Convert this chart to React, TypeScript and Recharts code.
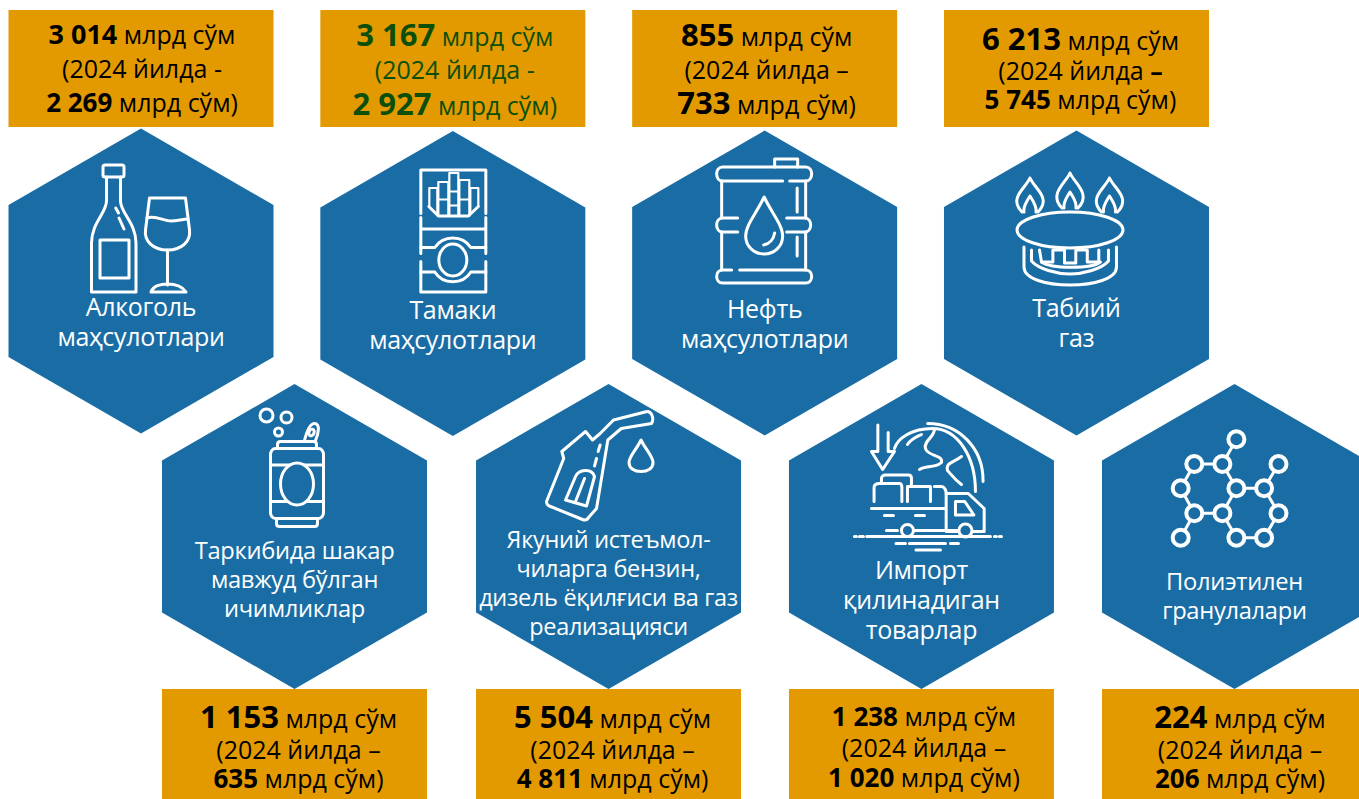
import { ReactNode } from 'react';
import { ScatterChart, Scatter, XAxis, YAxis } from 'recharts';

const categories = [
  ['Алкоголь', 'маҳсулотлари'],
  ['Тамаки', 'маҳсулотлари'],
  ['Нефть', 'маҳсулотлари'],
  ['Табиий', 'газ'],
  ['Таркибида шакар', 'мавжуд бўлган', 'ичимликлар'],
  ['Якуний истеъмол-', 'чиларга бензин,', 'дизель ёқилғиси ва газ', 'реализацияси'],
  ['Импорт', 'қилинадиган', 'товарлар'],
  ['Полиэтилен', 'гранулалари'],
];
const values2025 = ['3 014', '3 167', '855', '6 213', '1 153', '5 504', '1 238', '224'];
const values2024 = ['2 269', '2 927', '733', '5 745', '635', '4 811', '1 020', '206'];
const dashes = ['-', '-', '–', '–', '–', '–', '–', '–'];
const UNIT = 'млрд сўм';
const YEAR_TEXT = '(2024 йилда ';

const W = 1359;
const H = 799;
const BLUE = '#1A6DA4';
const ORANGE = '#E39A00';
const GREEN = '#0B4F0B';
const FONT = '"Open Sans", sans-serif';

// per card tweaks
const hexNudgeX = [0, 0, 0, 0, 0, 0.7, 0.3, 0];
const hexNudgeY = [-2, 0.5, 0, 0, 0, 0, 0, 0];
const textDx = [1, 2, 2, 4, 4, 4, 2.5, 5.5];
const boldSizes = [[27, 26], [31, 31], [31, 31], [31, 26], [31, 26], [31, 26], [26, 26], [31, 26]];
const baselines = [[44, 78, 112], [46, 79, 115], [46, 79, 114], [50, 80, 109], [728, 759, 788], [728, 759, 788], [726, 757, 787], [728, 759, 788]];
const labelSizes = [25, 25, 25, 25, 23.7, 23.5, 25, 23.7];
const labelTop = [35, 35, 35, 34, 22, 11, 42, 53];
const labelStep = [30, 30, 30, 30, 29, 29, 30, 29];

const rows = categories.map((lines, i) => ({
  id: i,
  slot: i % 4,
  row: i < 4 ? 0 : 1,
  lines,
  now: values2025[i],
  before: values2024[i],
  dash: dashes[i],
}));

const wineIcon = (
  <>
    <rect x={-38} y={-116} width={21} height={12} rx={2} />
    <path d="M-34.5 -104 V-80 C-34.5 -68 -49.5 -58 -49.5 -38 V11 H-5 V-38 C-5 -58 -20.5 -68 -20.5 -80 V-104" />
    <rect x={-41} y={-41} width={29} height={38} />
    <path d="M-25.3 -73 L-22.5 -68 M-22 -63 L-17 -52" />
    <path d="M8.5 -83 H44.5 L48.5 -51 C50 -40 41 -31 26.5 -31 C12 -31 3 -40 4.5 -51 Z" />
    <path d="M6 -63 C15 -66 22 -60 30 -60 C36 -60 42 -62 47 -62" />
    <path d="M26.5 -31 V4 M10 11 C12 5 20 3 26.5 3 C33 3 41 5 45 11 Z" />
  </>
);

const cigaretteIcon = (
  <>
    <path d="M-32 -70 V-113.5 H33 V-70 M-32 -66 V-30 M33 -66 V-30 M-32 -22 V8.5 H33 V-22 M-32 -54.5 H33" />
    <path d="M-23.5 -77 V-95.5 H-15.5 V-70 M-14.5 -67.5 V-101.5 H-4.5 V-67.5 M-3.5 -67.5 V-110.5 H5.5 V-67.5 M6.5 -67.5 V-103.5 H16.5 V-67.5 M17.5 -70 V-95.5 H25.5 V-77" strokeWidth={2.2} />
    <path d="M-4 -92 H6 M-4 -78 H6 M-14 -84 H-5 M7 -84 H16" strokeWidth={2.2} />
    <path d="M-24 -77 L-14.5 -67.5 H15.5 L25.5 -77" />
    <ellipse cx={0} cy={-23.5} rx={14} ry={16} />
    <path d="M-32 -36 H-18 C-14 -42 -7 -45.5 0 -45.5 C7 -45.5 14 -42 18 -36 H33 M-32 -11.5 H-18 C-14 -5 -7 -1.8 0 -1.8 C7 -1.8 14 -5 18 -11.5 H33" />
  </>
);

const barrelIcon = (
  <>
    <path d="M10 -116 V-124 H33 V-116" />
    <path d="M25 -102 H41 C49 -102 49 -116 41 -116 H-42 C-50 -116 -50 -102 -42 -102 H18" />
    <path d="M-43 -102 V-65 M-43 -51 V-13 M41 -102 V-65 M41 -51 V-13" />
    <path d="M-27 -65 H-42 C-50 -65 -50 -51 -42 -51 H-27 M22 -65 H40 C48 -65 48 -51 40 -51 H22" />
    <path d="M-33 -13 H-42 C-50 -13 -50 0 -42 0 H41 C49 0 49 -13 41 -13 H-25" />
    <path d="M-0.5 -86 C-8 -70 -19 -58 -19 -47 C-19 -36 -10 -29 -0.5 -29 C9 -29 18 -36 18 -47 C18 -58 7 -70 -0.5 -86 Z" />
    <path d="M-1 -38 C5 -39 9 -44 10 -50 M32.5 -95 V-71 M32.5 -46 V-27" />
  </>
);

const flame = (x: number, top: number, bottom: number) =>
  `M${x + 8} ${bottom} C${x + 12} ${bottom - 4} ${x + 14} ${bottom - 8} ${x + 13} ${bottom - 13} C${x + 12} ${top + 14} ${x + 3} ${top + 7} ${x} ${top} ` +
  `C${x - 3} ${top + 7} ${x - 12} ${top + 14} ${x - 13} ${bottom - 13} C${x - 14} ${bottom - 8} ${x - 12} ${bottom - 4} ${x - 8} ${bottom} ` +
  `M${x - 6} ${bottom} C${x - 7} ${bottom - 6} ${x - 3} ${bottom - 11} ${x} ${bottom - 16} C${x + 3} ${bottom - 11} ${x + 7} ${bottom - 6} ${x + 6} ${bottom}`;

const burnerIcon = (
  <>
    <path d={flame(-46.5, -105, -71)} />
    <path d={flame(-6.5, -110, -75)} />
    <path d={flame(33, -105, -71)} />
    <ellipse cx={-6.5} cy={-53} rx={53} ry={18} />
    <path d="M-52.5 -36 V-16 C-52.5 -4 -30 2 -6.5 2 C17 2 40 -4 40 -16 V-36" />
    <path d="M-45 -33 V-22 C-38 -14 -20 -9 -6.5 -9 C7 -9 25 -14 32 -22 V-33" />
    <path d="M-37 -33 L-35 -21 H-23.6 V-33 H-12 V-20 H-0.7 V-33 H10.8 V-21 H22.3 V-33" />
    <path d="M-35 -21 C-25 -14 15 -14 24 -21" />
  </>
);

const canIcon = (
  <>
    <circle cx={-28} cy={-121} r={6.5} />
    <circle cx={-8} cy={-119} r={5.5} />
    <circle cx={-16} cy={-104.5} r={4} />
    <path d="M10 -96 C12 -104 15 -113 20 -113 C26 -113 24 -103 21 -96" />
    <ellipse cx={17} cy={-104} rx={2.5} ry={3.5} transform="rotate(25 17 -104)" />
    <path d="M-19 -88 H24 C27 -88 29 -85 29 -82 V-24 C29 -21 27 -18 24 -18 H-19 C-22 -18 -24 -21 -24 -24 V-82 C-24 -85 -22 -88 -19 -88 Z" />
    <path d="M-17 -88 V-92 C-17 -94 -16 -95 -14 -95 H19 C21 -95 22 -94 22 -92 V-88" />
    <path d="M-18 -18 V-13 C-18 -11 -17 -10 -15 -10 H20 C22 -10 23 -11 23 -13 V-18" />
    <path d="M-24 -71.5 H29 M-24 -35 H29" />
    <ellipse cx={2.5} cy={-52.5} rx={16.5} ry={21} fill={BLUE} />
  </>
);

const nozzleIcon = (
  <>
    <path d="M37.5 -124.8 L5 -116.5 L-8.4 -103 L-16 -96.5 L-23 -105 L-46.7 -85 L-44.8 -78 L-62 -35 C-62 -32 -61 -31 -58 -30 L-26 -17 C-23 -16 -21 -17 -20 -19 L-12 -28 L-0.7 -96.5 L12.7 -108 L43 -113 C46 -118 43 -126 37.5 -124.8 Z" />
    <path d="M-43 -36.5 L-33 -60 C-30 -67 -17 -69 -14 -60 L-22 -30.5 Z M-33 -35 L-24 -58" />
    <path d="M-8.4 -91.5 L-10.4 -85 M-12 -78 L-14 -70.5" />
    <path d="M32.5 -96.5 C28 -87 20.5 -80 20.5 -74 C20.5 -68 26 -65 32.5 -65 C39 -65 44.5 -68 44.5 -74 C44.5 -80 37 -87 32.5 -96.5 Z" />
  </>
);

const truckIcon = (
  <>
    <path d="M-43.6 -111.5 V-85 H-50 L-38.8 -67 L-27 -85 H-33.3 V-104" />
    <path d="M-27 -88 C-24 -98 -10 -108 11 -108 C36 -108 54 -80 54 -45 M6.2 -113 C38 -113 62 -88 61.6 -55" />
    <path d="M-14 -92 C-10 -98 -4 -100 0 -102 M13 -107 C12 -98 2 -96 4 -88 C6 -80 22 -82 20 -74 C14 -68 6 -72 -2 -67 M40 -80 C32 -74 24 -74 26 -66 C30 -62 32 -58 40 -52" />
    <path d="M-47.4 -35 V-49 C-47.4 -52 -45 -53 -42 -53 H-22 C-20 -53 -19.6 -51 -19.6 -49 V-35 M-40 -53 V-58 C-40 -60 -38 -61.5 -36 -61.5 H-13 C-11 -61.5 -10 -60 -10 -58 V-50" />
    <path d="M-14 -35 V-50 H9 V-35 M13 -50 H20 C23 -50 24.7 -46 24.7 -43" />
    <path d="M-50 -28 H24.7 M24.7 -43 H46.8 L62.7 -28 V-5 H52 M24.7 -43 V-5 H37 M34 -35 H43.3 L52.4 -21.5 H34 Z" />
    <path d="M-37 -21 H-28 M-6 -21 H3 M-35 -6 H-24 M-7 -6 H36" />
    <circle cx={-14} cy={-6} r={6} />
    <circle cx={44} cy={-6} r={6.5} />
    <path d="M-54.7 0 H69 M-67 0 H-65 M-62 0 H-58 M73 0 H75 M78 0 H80 M-25.5 7 H-16 M-12 7 H24 M29 7 H37 M-5.5 13.5 H19" />
  </>
);

const molNodes = [[1.9, -97.2], [-40.2, -72.5], [-12.1, -72.5], [44, -72.5], [-53.8, -48.2], [1.9, -48.2], [29.6, -48.2], [-40.2, -23.2], [-12.1, -23.2], [44, -23.2], [-53.8, 1.2], [1.9, 1.2], [29.6, 1.2]];
const molBonds = [[0, 2], [1, 2], [1, 4], [2, 5], [5, 6], [6, 3], [6, 9], [4, 7], [7, 8], [8, 5], [8, 11], [11, 12], [12, 9], [7, 10]];

const moleculeIcon = (
  <>
    {molBonds.map(([a, b]) => (
      <line key={`${a}-${b}`} x1={molNodes[a][0]} y1={molNodes[a][1]} x2={molNodes[b][0]} y2={molNodes[b][1]} />
    ))}
    {molNodes.map(([x, y]) => (
      <circle key={`${x},${y}`} cx={x} cy={y} r={8} fill={BLUE} strokeWidth={4} />
    ))}
  </>
);

const icons: ReactNode[] = [wineIcon, cigaretteIcon, barrelIcon, burnerIcon, canIcon, nozzleIcon, truckIcon, moleculeIcon];

function Card(props: any) {
  const { payload } = props;
  const i: number = payload.id;
  const cx = props.cx + hexNudgeX[i];
  const y = props.cy + hexNudgeY[i];
  const color = i === 1 ? GREEN : '#000';
  const tx = cx + textDx[i];
  const [b1, b2, b3] = baselines[i];
  const hex = [
    [cx, y - 152.5], [cx + 132.5, y - 76], [cx + 132.5, y + 76],
    [cx, y + 152.5], [cx - 132.5, y + 76], [cx - 132.5, y - 76],
  ].map((p) => p.join(',')).join(' ');
  const boxY = payload.row === 0 ? 10 : 689;
  const boxH = payload.row === 0 ? 117 : 110;
  return (
    <g fontFamily={FONT}>
      <rect x={cx - 132.5} y={boxY} width={265} height={boxH} fill={ORANGE} />
      <polygon points={hex} fill={BLUE} />
      <g transform={`translate(${cx} ${y})`} fill="none" stroke="#fff" strokeWidth={3} strokeLinejoin="round" strokeLinecap="round">
        {icons[i]}
      </g>
      <text textAnchor="middle" fill="#fff" fontSize={labelSizes[i]} letterSpacing={-0.3}>
        {payload.lines.map((line: string, n: number) => (
          <tspan key={line} x={cx} y={y + labelTop[i] + n * labelStep[i]}>{line}</tspan>
        ))}
      </text>
      <text textAnchor="middle" fill={color} fontSize={25}>
        <tspan x={tx} y={b1} fontWeight={700} fontSize={boldSizes[i][0]}>{payload.now}</tspan>
        <tspan>{` ${UNIT}`}</tspan>
        <tspan x={tx} y={b2}>{YEAR_TEXT}</tspan>
        <tspan fontWeight={i === 3 ? 700 : 400}>{payload.dash}</tspan>
        <tspan x={tx} y={b3} fontWeight={700} fontSize={boldSizes[i][1]}>{payload.before}</tspan>
        <tspan>{` ${UNIT})`}</tspan>
      </text>
    </g>
  );
}

// slots 0..3 land on the hexagon centres of each row
const topStep = 311.83;
const bottomStep = 313.33;
const topDomain = [-141 / topStep, (W - 141) / topStep];
const bottomDomain = [-294.5 / bottomStep, (W - 294.5) / bottomStep];
const rowStep = 253.5;
const rowDomain = [-283 / rowStep, (H - 283) / rowStep];

export default function App() {
  return (
    <div style={{ position: 'absolute', left: 0, top: 0, width: W, height: H, overflow: 'hidden', background: '#fff' }}>
      <ScatterChart width={W} height={H} margin={{ top: 0, right: 0, bottom: 0, left: 0 }}>
        <XAxis xAxisId="top" type="number" dataKey="slot" domain={topDomain} hide />
        <XAxis xAxisId="bottom" type="number" dataKey="slot" domain={bottomDomain} hide />
        <YAxis yAxisId="row" type="number" dataKey="row" domain={rowDomain} reversed hide />
        <Scatter data={rows.slice(0, 4)} xAxisId="top" yAxisId="row" shape={Card} isAnimationActive={false} />
        <Scatter data={rows.slice(4)} xAxisId="bottom" yAxisId="row" shape={Card} isAnimationActive={false} />
      </ScatterChart>
    </div>
  );
}
